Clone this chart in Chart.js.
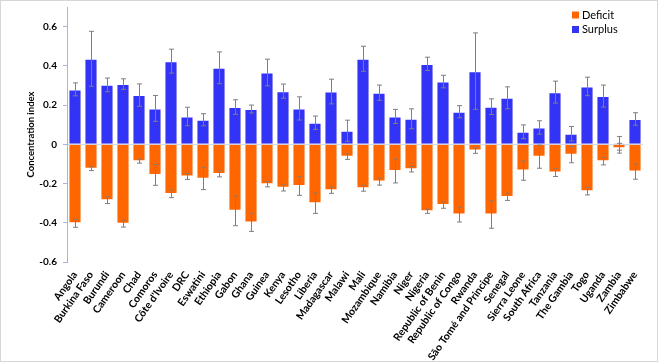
<!DOCTYPE html>
<html>
<head>
<meta charset="utf-8">
<script src="https://cdn.jsdelivr.net/npm/chart.js@4"></script>
<style>
  html, body { margin: 0; padding: 0; background: #fff; }
  #wrap { width: 658px; height: 362px; box-sizing: border-box; border: 1px solid #d6d6d6; }
</style>
</head>
<body>
<div id="wrap"><canvas id="ciChart"></canvas></div>
<script>
var countries = ["Angola", "Burkina Faso", "Burundi", "Cameroon", "Chad", "Comoros", "Côte d'Ivoire", "DRC",
  "Eswatini", "Ethiopia", "Gabon", "Ghana", "Guinea", "Kenya", "Lesotho", "Liberia", "Madagascar", "Malawi",
  "Mali", "Mozambique", "Namibia", "Niger", "Nigeria", "Republic of Benin", "Republic of Congo", "Rwanda",
  "São Tomé and Principe", "Senegal", "Sierra Leone", "South Africa", "Tanzania", "The Gambia", "Togo",
  "Uganda", "Zambia", "Zimbabwe"];

var surplus = [0.28, 0.436, 0.303, 0.307, 0.251, 0.183, 0.424, 0.142, 0.125, 0.39, 0.19, 0.18, 0.366, 0.271,
  0.183, 0.11, 0.269, 0.069, 0.436, 0.263, 0.142, 0.13, 0.41, 0.32, 0.166, 0.373, 0.192, 0.237, 0.064, 0.086,
  0.266, 0.054, 0.295, 0.246, 0.005, 0.129];
var surplusErr = [0.033, 0.14, 0.035, 0.027, 0.057, 0.066, 0.061, 0.047, 0.031, 0.081, 0.037, 0.02, 0.068, 0.036,
  0.059, 0.034, 0.063, 0.054, 0.064, 0.039, 0.036, 0.051, 0.034, 0.032, 0.031, 0.195, 0.04, 0.056, 0.035, 0.034,
  0.056, 0.037, 0.047, 0.056, 0.035, 0.032];

var deficit = [-0.403, -0.124, -0.285, -0.405, -0.086, -0.156, -0.253, -0.164, -0.175, -0.151, -0.339, -0.398,
  -0.203, -0.222, -0.212, -0.3, -0.234, -0.063, -0.224, -0.19, -0.136, -0.127, -0.341, -0.31, -0.358, -0.032,
  -0.358, -0.268, -0.134, -0.063, -0.144, -0.053, -0.239, -0.086, -0.02, -0.139];
var deficitErr = [0.02, 0.01, 0.017, 0.017, 0.01, 0.053, 0.019, 0.015, 0.056, 0.015, 0.076, 0.046, 0.014, 0.016,
  0.048, 0.052, 0.016, 0.014, 0.015, 0.018, 0.061, 0.014, 0.011, 0.016, 0.038, 0.014, 0.07, 0.018, 0.049, 0.059,
  0.02, 0.041, 0.019, 0.019, 0.025, 0.039];

var yTicks = [-0.6, -0.4, -0.2, 0, 0.2, 0.4, 0.6];
var yTickLabels = ["-0.6", "-0.4", "-0.2", "0", "0.2", "0.4", "0.6"];

var orange = "#ff6600";
var blue = "#3333f5";
var axisColor = "#a7b7d3";

Chart.defaults.font.family = "Lato";
Chart.defaults.color = "#000";

// error bars drawn through the chart's own scales
var errorBars = {
  id: "errorBars",
  afterDatasetsDraw: function(chart) {
    var ctx = chart.ctx;
    var yScale = chart.scales.y;
    ctx.save();
    ctx.strokeStyle = "#7f7f7f";
    ctx.lineWidth = 1;
    chart.data.datasets.forEach(function(ds, i) {
      var meta = chart.getDatasetMeta(i);
      meta.data.forEach(function(bar, j) {
        var v = ds.data[j], e = ds.errors[j];
        var x = Math.round(bar.x) + 0.5;
        var y1 = yScale.getPixelForValue(v + e);
        var y2 = yScale.getPixelForValue(v - e);
        ctx.beginPath();
        ctx.moveTo(x, y1); ctx.lineTo(x, y2);
        ctx.moveTo(x - 2.5, y1); ctx.lineTo(x + 2.5, y1);
        ctx.moveTo(x - 2.5, y2); ctx.lineTo(x + 2.5, y2);
        ctx.stroke();
      });
    });
    ctx.restore();
  }
};

// legend inside the plot, top right, stacked
var boxLegend = {
  id: "boxLegend",
  afterDraw: function(chart) {
    var ctx = chart.ctx;
    ctx.save();
    ctx.font = "11px Lato";
    ctx.textBaseline = "middle";
    chart.data.datasets.forEach(function(ds, i) {
      var y = 14 + i * 14.5;
      ctx.fillStyle = ds.backgroundColor;
      ctx.fillRect(571, y - 3.5, 7, 7);
      ctx.fillStyle = "#000";
      ctx.fillText(ds.label, 581, y);
    });
    ctx.restore();
  }
};

new Chart(document.getElementById("ciChart"), {
  type: "bar",
  data: {
    labels: countries,
    datasets: [
      { label: "Deficit", data: deficit, errors: deficitErr, backgroundColor: orange,
        borderColor: "rgba(255,255,255,0.5)", borderWidth: 1, barPercentage: 0.82, categoryPercentage: 1 },
      { label: "Surplus", data: surplus, errors: surplusErr, backgroundColor: blue,
        borderColor: "rgba(255,255,255,0.5)", borderWidth: 1, barPercentage: 0.82, categoryPercentage: 1 }
    ]
  },
  options: {
    responsive: true,
    maintainAspectRatio: false,
    animation: false,
    layout: { padding: { top: 6, right: 14, left: 24, bottom: 0 } },
    plugins: { legend: { display: false }, tooltip: { enabled: false } },
    scales: {
      x: {
        stacked: true,
        afterFit: function(axis) { axis.height = 99; axis.paddingLeft = 0; axis.paddingRight = 0; },
        grid: { display: false, drawTicks: false },
        border: { display: false },
        ticks: {
          autoSkip: false,
          maxRotation: 55,
          minRotation: 55,
          padding: 7,
          font: { size: 10.5, weight: "bold" }
        }
      },
      y: {
        stacked: true,
        min: -0.6,
        max: 0.7,
        afterBuildTicks: function(axis) {
          axis.ticks = yTicks.map(function(v) { return { value: v }; });
        },
        afterFit: function(axis) { axis.width = 42; axis.paddingTop = 0; axis.paddingBottom = 0; },
        border: { display: true, color: axisColor, width: 1 },
        grid: {
          drawOnChartArea: true,
          tickLength: 4,
          tickColor: axisColor,
          color: function(c) { return c.tick && c.tick.value === 0 ? "#d8d8e8" : "rgba(0,0,0,0)"; }
        },
        ticks: {
          padding: 6,
          font: { size: 10, weight: "bold" },
          callback: function(value, index) { return yTickLabels[index]; }
        },
        title: {
          display: true,
          text: "Concentration index",
          font: { size: 9.5, weight: "bold" },
          padding: { top: 0, bottom: 2 }
        }
      }
    }
  },
  plugins: [errorBars, boxLegend]
});
</script>
</body>
</html>
